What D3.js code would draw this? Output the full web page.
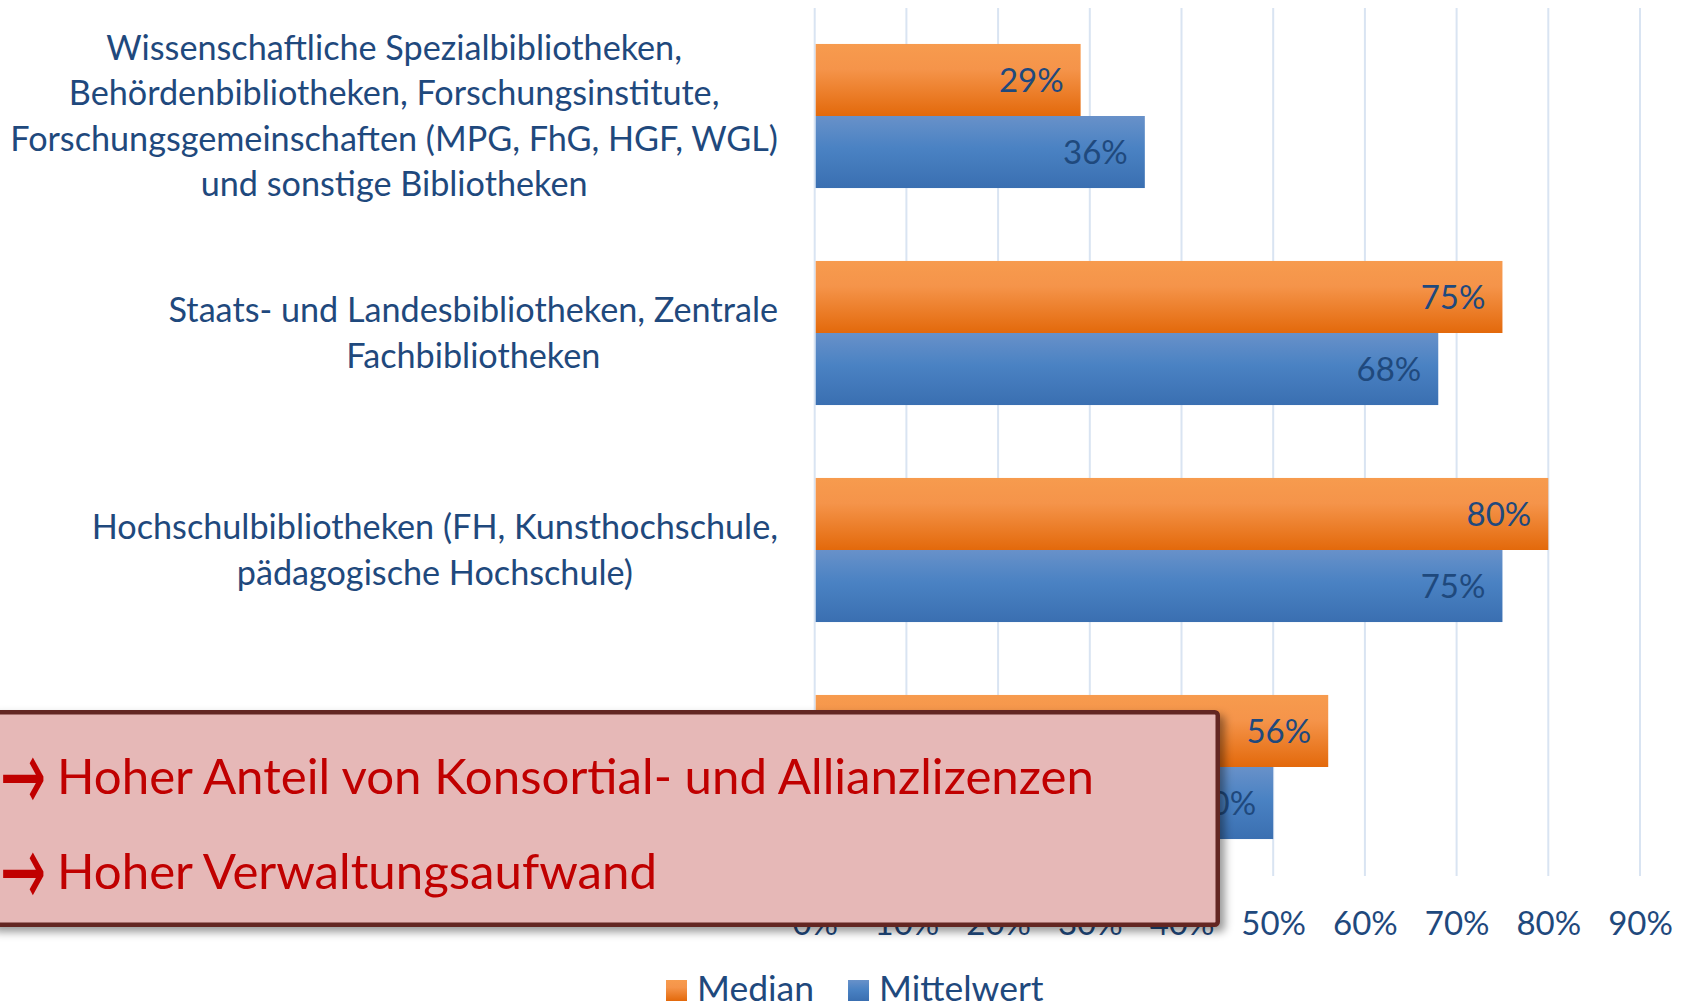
<!DOCTYPE html>
<html>
<head>
<meta charset="utf-8">
<script src="https://cdn.jsdelivr.net/npm/d3@7"></script>
<style>
  html, body { margin: 0; padding: 0; background: #fff; }
  svg { display: block; }
</style>
</head>
<body>
<div id="container"></div>
<script>
const categories = [
  'Wissenschaftliche Spezialbibliotheken, Behördenbibliotheken, Forschungsinstitute, Forschungsgemeinschaften (MPG, FhG, HGF, WGL) und sonstige Bibliotheken',
  'Staats- und Landesbibliotheken, Zentrale Fachbibliotheken',
  'Hochschulbibliotheken (FH, Kunsthochschule, pädagogische Hochschule)',
  'Universitätsbibliotheken',
];
// wrapped label lines; the last category's label is hidden under the note box
const categoryLines = [
  ['Wissenschaftliche Spezialbibliotheken,', 'Behördenbibliotheken, Forschungsinstitute,', 'Forschungsgemeinschaften (MPG, FhG, HGF, WGL)', 'und sonstige Bibliotheken'],
  ['Staats- und Landesbibliotheken, Zentrale', 'Fachbibliotheken'],
  ['Hochschulbibliotheken (FH, Kunsthochschule,', 'pädagogische Hochschule)'],
  [],
];
const seriesNames = ['Median', 'Mittelwert'];
const medianValues = [0.29, 0.75, 0.80, 0.56];
const meanValues = [0.36, 0.68, 0.75, 0.50];
const tickValues = [0, 0.1, 0.2, 0.3, 0.4, 0.5, 0.6, 0.7, 0.8, 0.9];
const notes = ['Hoher Anteil von Konsortial- und Allianzlizenzen', 'Hoher Verwaltungsaufwand'];

const WIDTH = 1686;
const HEIGHT = 1004;
const FONT = 'Lato, "Open Sans", sans-serif';
const TEXT_BLUE = '#1f497d';

const svg = d3
  .select('#container')
  .append('svg')
  .attr('width', WIDTH)
  .attr('height', HEIGHT);

const defs = svg.append('defs');

const gradients = [
  { id: 'grad-median', stops: [['0%', '#f79b4e'], ['35%', '#f5944a'], ['100%', '#e3690b']] },
  { id: 'grad-mean', stops: [['0%', '#6891c9'], ['45%', '#4a82c3'], ['100%', '#3a6fb1']] },
];
gradients.forEach((g) => {
  const lg = defs
    .append('linearGradient')
    .attr('id', g.id)
    .attr('x1', 0)
    .attr('y1', 0)
    .attr('x2', 0)
    .attr('y2', 1);
  g.stops.forEach(([o, c]) => lg.append('stop').attr('offset', o).attr('stop-color', c));
});

const shadow = defs
  .append('filter')
  .attr('id', 'box-shadow')
  .attr('x', '-5%')
  .attr('y', '-10%')
  .attr('width', '115%')
  .attr('height', '130%');
shadow
  .append('feDropShadow')
  .attr('dx', 5)
  .attr('dy', 5)
  .attr('stdDeviation', 4)
  .attr('flood-color', '#000')
  .attr('flood-opacity', 0.4);

const fill = d3.scaleOrdinal().domain(seriesNames).range(['url(#grad-median)', 'url(#grad-mean)']);

const x = d3.scaleLinear().domain([0, 0.9]).range([814.7, 1640]);
const y = d3
  .scaleBand()
  .domain(categories)
  .range([7.5, 875.5])
  .paddingInner(0.336)
  .paddingOuter(0.168);
const ySub = d3.scaleBand().domain(seriesNames).range([0, y.bandwidth()]);

// gridlines
svg
  .append('g')
  .attr('class', 'grid')
  .selectAll('line')
  .data(tickValues)
  .enter()
  .append('line')
  .attr('x1', (d) => x(d))
  .attr('x2', (d) => x(d))
  .attr('y1', 8)
  .attr('y2', 876)
  .attr('stroke', '#d9e4f2')
  .attr('stroke-width', 2);

// x axis labels
const xAxis = d3.axisBottom(x).tickValues(tickValues).tickFormat(d3.format('.0%')).tickSize(0);
const axisG = svg.append('g').attr('transform', 'translate(0, 876)').call(xAxis);
axisG.select('.domain').remove();
axisG
  .selectAll('text')
  .attr('y', 59)
  .attr('dy', 0)
  .attr('fill', TEXT_BLUE)
  .style('font-family', FONT)
  .style('font-size', '33px');

// bars
const rows = categories.map((c, i) => ({
  category: c,
  values: [
    { series: 'Median', value: medianValues[i] },
    { series: 'Mittelwert', value: meanValues[i] },
  ],
}));

const group = svg
  .selectAll('g.cat')
  .data(rows)
  .enter()
  .append('g')
  .attr('class', 'cat')
  .attr('transform', (d) => `translate(0, ${y(d.category)})`);

const bar = group
  .selectAll('g.bar')
  .data((d) => d.values)
  .enter()
  .append('g')
  .attr('class', 'bar');

bar
  .append('rect')
  .attr('x', x(0) + 1)
  .attr('y', (d) => ySub(d.series))
  .attr('width', (d) => x(d.value) - x(0) - 1)
  .attr('height', ySub.bandwidth())
  .attr('fill', (d) => fill(d.series));

bar
  .append('text')
  .attr('x', (d) => x(d.value) - 17)
  .attr('y', (d) => ySub(d.series) + ySub.bandwidth() / 2 + 12)
  .attr('text-anchor', 'end')
  .attr('fill', TEXT_BLUE)
  .style('font-family', FONT)
  .style('font-size', '33px')
  .text((d) => d3.format('.0%')(d.value));

// category labels: centred lines, block right-aligned
const LABEL_RIGHT = 778;
const LINE_H = 45.5;
categories.forEach((c, i) => {
  const lines = categoryLines[i];
  if (!lines.length) return;
  const cy = y(c) + y.bandwidth() / 2;
  const t = svg
    .append('text')
    .attr('fill', TEXT_BLUE)
    .attr('text-anchor', 'middle')
    .style('font-family', FONT)
    .style('font-size', '34.2px');
  const spans = lines.map((line, j) =>
    t
      .append('tspan')
      .attr('y', cy + (j - (lines.length - 1) / 2) * LINE_H + 12)
      .text(line)
  );
  const maxW = d3.max(spans, (s) => s.node().getComputedTextLength());
  spans.forEach((s) => s.attr('x', LABEL_RIGHT - maxW / 2));
});

// legend
const legend = svg.append('g').attr('transform', 'translate(666, 1001)');
let lx = 0;
seriesNames.forEach((name) => {
  legend
    .append('rect')
    .attr('x', lx)
    .attr('y', -21)
    .attr('width', 21)
    .attr('height', 21)
    .attr('fill', fill(name));
  const txt = legend
    .append('text')
    .attr('x', lx + 31)
    .attr('y', 0)
    .attr('fill', TEXT_BLUE)
    .style('font-family', FONT)
    .style('font-size', '35.5px')
    .text(name);
  lx += 31 + txt.node().getComputedTextLength() + 34;
});

// overlay note box
const box = svg.append('g');
box
  .append('rect')
  .attr('x', -10)
  .attr('y', 712.25)
  .attr('width', 1227.75)
  .attr('height', 212.5)
  .attr('rx', 3)
  .attr('fill', '#e6b8b7')
  .attr('stroke', '#632523')
  .attr('stroke-width', 4.5)
  .attr('filter', 'url(#box-shadow)');

const noteBaselines = [794, 889];
notes.forEach((n, i) => {
  // arrow glyph, stretched around its own centre to match the big-headed arrow
  box
    .append('text')
    .attr('transform', `translate(0, ${noteBaselines[i] - 19.5}) scale(1.1, 2)`)
    .attr('y', 17.5)
    .attr('fill', '#c00000')
    .style('font-family', '"DejaVu Sans"')
    .style('font-size', '50px')
    .text('→');
  box
    .append('text')
    .attr('x', 57)
    .attr('y', noteBaselines[i])
    .attr('fill', '#c00000')
    .style('font-family', FONT)
    .style('font-size', '49.2px')
    .text(n);
});
</script>
</body>
</html>
